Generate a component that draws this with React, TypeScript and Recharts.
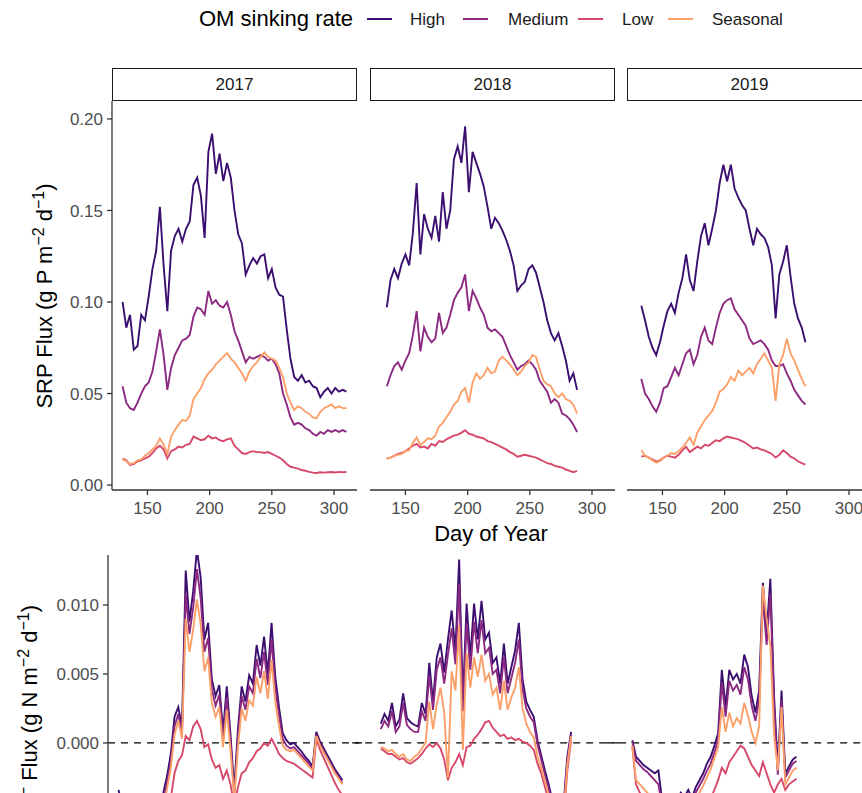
import React from 'react';
import { LineChart, Line, XAxis, YAxis, ReferenceLine } from 'recharts';

const FONT = '"Liberation Sans", Arial, Helvetica, sans-serif';

const seriesNames = ['High', 'Medium', 'Low', 'Seasonal'];
const seriesKeys = ['high', 'medium', 'low', 'seasonal'];
const seriesColors = ['#3B0F70', '#8C2981', '#D6496B', '#FCA06A'];
const years = ['2017', '2018', '2019'];
const dayTicks = [150, 200, 250, 300];
const srpTicks = [0, 0.05, 0.1, 0.15, 0.2];
const no3Ticks = [0, 0.005, 0.01];

const days2017 = [130,133,136,139,142,145,148,151,154,157,160,163,166,169,172,175,178,181,184,187,190,193,196,199,202,205,208,211,214,217,220,223,226,229,232,235,238,241,244,247,250,253,256,259,262,265,268,271,274,277,280,283,286,289,292,295,298,301,304,307,310];
const days2018 = [135,138,141,144,147,150,153,156,159,162,165,168,171,174,177,180,183,186,189,192,195,198,201,204,207,210,213,216,219,222,225,228,231,234,237,240,243,246,249,252,255,258,261,264,267,270,273,276,279,282,285,288];
const days2019 = [133,136,139,142,145,148,151,154,157,160,163,166,169,172,175,178,181,184,187,190,193,196,199,202,205,208,211,214,217,220,223,226,229,232,235,238,241,244,247,250,253,256,259,262,265];

// SRP flux (g P m-2 d-1)
const srpHigh2017 = [0.100,0.086,0.093,0.074,0.076,0.093,0.090,0.103,0.118,0.128,0.152,0.120,0.095,0.128,0.136,0.140,0.133,0.140,0.144,0.164,0.168,0.158,0.135,0.182,0.192,0.170,0.181,0.166,0.176,0.168,0.150,0.137,0.132,0.115,0.120,0.124,0.121,0.125,0.126,0.113,0.118,0.108,0.104,0.103,0.085,0.069,0.059,0.057,0.060,0.056,0.057,0.054,0.053,0.048,0.051,0.053,0.050,0.053,0.051,0.052,0.051];
const srpMedium2017 = [0.054,0.045,0.042,0.041,0.045,0.050,0.054,0.056,0.062,0.073,0.085,0.071,0.052,0.064,0.071,0.075,0.079,0.080,0.082,0.092,0.097,0.096,0.093,0.106,0.099,0.101,0.098,0.097,0.100,0.093,0.084,0.079,0.073,0.067,0.070,0.069,0.070,0.071,0.070,0.068,0.069,0.066,0.061,0.050,0.044,0.037,0.033,0.034,0.033,0.031,0.030,0.028,0.027,0.029,0.028,0.030,0.029,0.030,0.029,0.030,0.029];
const srpLow2017 = [0.0145,0.0135,0.0110,0.0115,0.0130,0.0135,0.0145,0.0155,0.0175,0.0200,0.0215,0.0195,0.0145,0.0185,0.0195,0.0210,0.0205,0.0220,0.0225,0.0265,0.0255,0.0245,0.0250,0.0270,0.0255,0.0260,0.0245,0.0240,0.0250,0.0255,0.0215,0.0195,0.0175,0.0170,0.0180,0.0185,0.0180,0.0180,0.0175,0.0180,0.0170,0.0160,0.0150,0.0135,0.0115,0.0100,0.0095,0.0090,0.0082,0.0078,0.0072,0.0068,0.0066,0.0070,0.0068,0.0070,0.0071,0.0069,0.0072,0.0070,0.0071];
const srpSeasonal2017 = [0.0140,0.0130,0.0115,0.0120,0.0135,0.0140,0.0160,0.0175,0.0195,0.0215,0.0255,0.0220,0.0170,0.0265,0.0300,0.0330,0.0355,0.0350,0.0380,0.0470,0.0500,0.0530,0.0580,0.0610,0.0630,0.0660,0.0680,0.0700,0.0720,0.0690,0.0670,0.0640,0.0610,0.0570,0.0620,0.0650,0.0670,0.0700,0.0725,0.0700,0.0690,0.0680,0.0640,0.0590,0.0500,0.0450,0.0410,0.0430,0.0420,0.0400,0.0390,0.0370,0.0365,0.0400,0.0420,0.0430,0.0440,0.0420,0.0430,0.0420,0.0420];

const srpHigh2018 = [0.097,0.112,0.118,0.113,0.121,0.126,0.120,0.138,0.165,0.126,0.148,0.140,0.135,0.147,0.133,0.160,0.140,0.150,0.178,0.185,0.176,0.196,0.160,0.182,0.176,0.170,0.163,0.152,0.140,0.146,0.143,0.139,0.134,0.128,0.120,0.106,0.109,0.111,0.118,0.120,0.116,0.108,0.100,0.090,0.083,0.079,0.083,0.076,0.068,0.057,0.061,0.052];
const srpMedium2018 = [0.054,0.060,0.065,0.067,0.063,0.068,0.072,0.082,0.095,0.073,0.086,0.081,0.078,0.080,0.094,0.083,0.086,0.093,0.101,0.105,0.108,0.115,0.095,0.106,0.102,0.097,0.093,0.086,0.084,0.085,0.083,0.081,0.076,0.071,0.067,0.063,0.065,0.066,0.068,0.066,0.063,0.057,0.054,0.051,0.045,0.047,0.045,0.039,0.038,0.036,0.033,0.029];
const srpLow2018 = [0.0145,0.0150,0.0160,0.0170,0.0175,0.0185,0.0200,0.0215,0.0225,0.0205,0.0210,0.0200,0.0225,0.0215,0.0240,0.0235,0.0250,0.0260,0.0270,0.0275,0.0285,0.0300,0.0280,0.0275,0.0265,0.0260,0.0255,0.0240,0.0235,0.0225,0.0215,0.0205,0.0195,0.0180,0.0170,0.0155,0.0160,0.0165,0.0160,0.0155,0.0150,0.0140,0.0130,0.0120,0.0115,0.0105,0.0100,0.0095,0.0085,0.0078,0.0070,0.0078];
const srpSeasonal2018 = [0.0145,0.0150,0.0160,0.0165,0.0170,0.0185,0.0190,0.0230,0.0260,0.0220,0.0235,0.0255,0.0250,0.0270,0.0320,0.0340,0.0370,0.0400,0.0440,0.0460,0.0510,0.0530,0.0450,0.0560,0.0610,0.0580,0.0600,0.0640,0.0610,0.0620,0.0680,0.0700,0.0680,0.0660,0.0630,0.0600,0.0620,0.0650,0.0670,0.0710,0.0700,0.0630,0.0570,0.0550,0.0540,0.0500,0.0480,0.0500,0.0470,0.0460,0.0440,0.0390];

const srpHigh2019 = [0.098,0.090,0.081,0.075,0.071,0.078,0.087,0.095,0.099,0.094,0.105,0.113,0.126,0.112,0.106,0.122,0.136,0.143,0.131,0.140,0.150,0.165,0.175,0.166,0.175,0.162,0.157,0.153,0.150,0.140,0.131,0.140,0.137,0.135,0.130,0.120,0.091,0.115,0.122,0.131,0.114,0.099,0.091,0.086,0.078];
const srpMedium2019 = [0.058,0.050,0.047,0.043,0.040,0.045,0.053,0.054,0.059,0.064,0.060,0.066,0.072,0.074,0.066,0.071,0.081,0.086,0.079,0.077,0.086,0.094,0.099,0.101,0.102,0.096,0.093,0.090,0.087,0.080,0.077,0.078,0.079,0.077,0.074,0.068,0.065,0.065,0.066,0.061,0.057,0.052,0.049,0.046,0.044];
const srpLow2019 = [0.0155,0.0160,0.0150,0.0140,0.0128,0.0135,0.0150,0.0160,0.0155,0.0150,0.0165,0.0190,0.0210,0.0180,0.0195,0.0210,0.0200,0.0220,0.0215,0.0230,0.0245,0.0240,0.0255,0.0265,0.0260,0.0255,0.0250,0.0240,0.0230,0.0215,0.0200,0.0205,0.0195,0.0190,0.0180,0.0170,0.0150,0.0165,0.0190,0.0175,0.0155,0.0145,0.0130,0.0120,0.0112];
const srpSeasonal2019 = [0.0190,0.0160,0.0150,0.0135,0.0122,0.0130,0.0148,0.0160,0.0175,0.0170,0.0185,0.0205,0.0230,0.0260,0.0220,0.0285,0.0320,0.0355,0.0380,0.0405,0.0450,0.0510,0.0525,0.0550,0.0590,0.0570,0.0625,0.0600,0.0620,0.0640,0.0610,0.0660,0.0690,0.0720,0.0680,0.0640,0.0460,0.0660,0.0710,0.0800,0.0720,0.0680,0.0630,0.0580,0.0540];

// NO3- flux (g N m-2 d-1)
const no3High2017 = [-0.0034,-0.0048,-0.0060,-0.0068,-0.0075,-0.0080,-0.0078,-0.0072,-0.0065,-0.0058,-0.0052,-0.0046,-0.0036,-0.0024,-0.0008,0.0019,0.0026,0.0012,0.0125,0.0088,0.0110,0.0140,0.0120,0.0075,0.0087,0.0046,0.0034,0.0042,0.0008,0.0041,0.0006,-0.0034,0.0010,0.0041,0.0030,0.0049,0.0043,0.0071,0.0056,0.0077,0.0050,0.0087,0.0048,0.0026,0.0007,0.0002,-0.0001,0.0000,-0.0003,-0.0006,-0.0010,-0.0013,-0.0017,0.0008,0.0001,-0.0004,-0.0009,-0.0014,-0.0019,-0.0023,-0.0027];
const no3Medium2017 = [-0.0040,-0.0055,-0.0066,-0.0074,-0.0080,-0.0085,-0.0083,-0.0077,-0.0070,-0.0063,-0.0057,-0.0050,-0.0041,-0.0029,-0.0013,0.0012,0.0021,0.0007,0.0108,0.0079,0.0098,0.0126,0.0105,0.0066,0.0076,0.0039,0.0027,0.0035,0.0003,0.0033,0.0001,-0.0038,0.0004,0.0034,0.0024,0.0041,0.0036,0.0061,0.0047,0.0066,0.0042,0.0075,0.0040,0.0020,0.0003,-0.0002,-0.0004,-0.0003,-0.0006,-0.0009,-0.0012,-0.0015,-0.0019,0.0006,-0.0001,-0.0006,-0.0011,-0.0016,-0.0021,-0.0025,-0.0029];
const no3Low2017 = [-0.0060,-0.0075,-0.0086,-0.0094,-0.0100,-0.0104,-0.0102,-0.0096,-0.0090,-0.0083,-0.0076,-0.0068,-0.0060,-0.0050,-0.0040,-0.0022,-0.0013,-0.0009,0.0005,0.0002,0.0012,0.0016,0.0010,-0.0003,-0.0001,-0.0012,-0.0018,-0.0016,-0.0026,-0.0020,-0.0030,-0.0045,-0.0032,-0.0022,-0.0020,-0.0014,-0.0011,-0.0006,-0.0004,0.0000,-0.0002,0.0003,-0.0002,-0.0008,-0.0011,-0.0013,-0.0014,-0.0015,-0.0017,-0.0019,-0.0021,-0.0023,-0.0025,0.0003,-0.0005,-0.0011,-0.0017,-0.0023,-0.0029,-0.0034,-0.0038];
const no3Seasonal2017 = [-0.0045,-0.0060,-0.0071,-0.0079,-0.0085,-0.0090,-0.0088,-0.0082,-0.0075,-0.0068,-0.0062,-0.0055,-0.0046,-0.0033,-0.0018,0.0006,0.0016,0.0003,0.0090,0.0066,0.0082,0.0104,0.0086,0.0052,0.0062,0.0029,0.0019,0.0026,-0.0003,0.0024,-0.0005,-0.0040,-0.0003,0.0025,0.0016,0.0031,0.0027,0.0048,0.0036,0.0052,0.0032,0.0060,0.0030,0.0012,-0.0002,-0.0005,-0.0006,-0.0005,-0.0008,-0.0011,-0.0014,-0.0017,-0.0020,0.0005,-0.0002,-0.0007,-0.0012,-0.0017,-0.0022,-0.0026,-0.0030];

const no3High2018 = [0.0014,0.0021,0.0016,0.0029,0.0012,0.0017,0.0036,0.0018,0.0015,0.0013,0.0012,0.0029,0.0021,0.0058,0.0030,0.0062,0.0072,0.0051,0.0075,0.0096,0.0067,0.0133,0.0030,0.0101,0.0062,0.0101,0.0075,0.0103,0.0075,0.0080,0.0058,0.0062,0.0043,0.0072,0.0043,0.0055,0.0067,0.0087,0.0046,0.0030,0.0024,0.0019,0.0002,-0.0009,-0.0020,-0.0030,-0.0042,-0.0052,-0.0058,-0.0045,-0.0010,0.0008];
const no3Medium2018 = [0.0010,0.0016,0.0012,0.0023,0.0008,0.0012,0.0029,0.0013,0.0010,0.0008,0.0008,0.0023,0.0016,0.0049,0.0024,0.0053,0.0062,0.0043,0.0064,0.0083,0.0057,0.0115,0.0023,0.0087,0.0053,0.0088,0.0065,0.0089,0.0065,0.0069,0.0050,0.0053,0.0036,0.0062,0.0036,0.0047,0.0058,0.0075,0.0039,0.0025,0.0019,0.0015,-0.0001,-0.0012,-0.0023,-0.0033,-0.0045,-0.0055,-0.0061,-0.0048,-0.0013,0.0006];
const no3Low2018 = [-0.0004,-0.0006,-0.0008,-0.0008,-0.0010,-0.0012,-0.0011,-0.0014,-0.0015,-0.0013,-0.0011,-0.0008,-0.0004,-0.0001,-0.0003,0.0000,-0.0004,-0.0012,-0.0027,-0.0018,-0.0014,-0.0008,-0.0016,-0.0003,-0.0002,0.0003,0.0006,0.0010,0.0015,0.0016,0.0011,0.0008,0.0005,0.0006,0.0003,0.0004,0.0002,0.0003,0.0001,0.0000,-0.0002,-0.0005,-0.0015,-0.0022,-0.0032,-0.0042,-0.0053,-0.0062,-0.0068,-0.0056,-0.0020,0.0002];
const no3Seasonal2018 = [-0.0003,-0.0004,-0.0006,-0.0005,-0.0008,-0.0010,-0.0008,-0.0012,-0.0013,-0.0010,-0.0008,-0.0004,0.0000,0.0030,0.0010,0.0028,0.0040,0.0022,-0.0025,0.0052,0.0038,0.0085,-0.0005,0.0065,0.0040,0.0062,0.0048,0.0064,0.0045,0.0050,0.0035,0.0040,0.0024,0.0045,0.0024,0.0033,0.0040,0.0055,0.0025,0.0014,0.0008,0.0004,-0.0010,-0.0018,-0.0028,-0.0038,-0.0049,-0.0058,-0.0064,-0.0052,-0.0016,0.0005];

const no3High2019 = [0.0002,-0.0010,-0.0013,-0.0016,-0.0018,-0.0020,-0.0022,-0.0020,-0.0042,-0.0040,-0.0044,-0.0038,-0.0041,-0.0036,-0.0039,-0.0034,-0.0040,-0.0032,-0.0027,-0.0022,-0.0015,-0.0010,-0.0002,0.0007,0.0053,0.0026,0.0053,0.0046,0.0050,0.0043,0.0064,0.0055,0.0034,0.0022,0.0038,0.0116,0.0080,0.0119,0.0034,-0.0019,0.0038,-0.0022,-0.0017,-0.0012,-0.0010];
const no3Medium2019 = [0.0001,-0.0013,-0.0016,-0.0019,-0.0021,-0.0024,-0.0027,-0.0030,-0.0046,-0.0044,-0.0048,-0.0042,-0.0045,-0.0040,-0.0043,-0.0038,-0.0043,-0.0036,-0.0031,-0.0026,-0.0020,-0.0015,-0.0007,0.0002,0.0044,0.0019,0.0045,0.0038,0.0042,0.0035,0.0055,0.0046,0.0027,0.0016,0.0031,0.0105,0.0071,0.0108,0.0027,-0.0023,0.0031,-0.0025,-0.0020,-0.0015,-0.0013];
const no3Low2019 = [-0.0002,-0.0030,-0.0036,-0.0040,-0.0044,-0.0048,-0.0052,-0.0056,-0.0062,-0.0064,-0.0066,-0.0063,-0.0066,-0.0062,-0.0064,-0.0060,-0.0062,-0.0058,-0.0054,-0.0050,-0.0045,-0.0040,-0.0034,-0.0027,-0.0018,-0.0022,-0.0014,-0.0010,-0.0006,-0.0002,-0.0004,-0.0010,-0.0016,-0.0020,-0.0024,-0.0014,-0.0022,-0.0030,-0.0036,-0.0030,-0.0026,-0.0034,-0.0030,-0.0028,-0.0026];
const no3Seasonal2019 = [-0.0002,-0.0027,-0.0030,-0.0033,-0.0036,-0.0039,-0.0042,-0.0045,-0.0052,-0.0050,-0.0054,-0.0048,-0.0051,-0.0046,-0.0049,-0.0044,-0.0048,-0.0041,-0.0036,-0.0031,-0.0025,-0.0019,-0.0011,-0.0003,0.0026,0.0008,0.0022,0.0012,0.0018,0.0014,0.0029,0.0020,0.0008,0.0000,0.0012,0.0114,0.0090,0.0070,0.0006,-0.0020,0.0026,-0.0030,-0.0025,-0.0020,-0.0018];

const buildRows = (days: number[], h: number[], m: number[], l: number[], s: number[]) =>
  days.map((day, i) => ({ day, high: h[i], medium: m[i], low: l[i], seasonal: s[i] }));

const srpData = [
  buildRows(days2017, srpHigh2017, srpMedium2017, srpLow2017, srpSeasonal2017),
  buildRows(days2018, srpHigh2018, srpMedium2018, srpLow2018, srpSeasonal2018),
  buildRows(days2019, srpHigh2019, srpMedium2019, srpLow2019, srpSeasonal2019),
];
const no3Data = [
  buildRows(days2017, no3High2017, no3Medium2017, no3Low2017, no3Seasonal2017),
  buildRows(days2018, no3High2018, no3Medium2018, no3Low2018, no3Seasonal2018),
  buildRows(days2019, no3High2019, no3Medium2019, no3Low2019, no3Seasonal2019),
];

const DAY_DOMAIN: [number, number] = [121.5, 318.5];
const tickStyle = { fontSize: 17, fill: '#4d4d4d', fontFamily: FONT };
const axisStyle = { stroke: '#333', strokeWidth: 1.3 };

interface FacetProps {
  data: any[];
  left: number;
  top: number;
  plotW: number;
  plotH: number;
  yDomain: [number, number];
  yTicks: number[];
  digits: number;
  showY: boolean;
  showX: boolean;
  zero?: [number, number];
}

const Facet: React.FC<FacetProps> = ({ data, left, top, plotW, plotH, yDomain, yTicks, digits, showY, showX, zero }) => {
  const yW = 80;
  const rightPad = 14;
  const xH = showX ? 40 : 0;
  const w = yW + plotW + rightPad;
  const h = plotH + xH;
  return (
    <div style={{ position: 'absolute', left: left - yW, top, width: w, height: h }}>
      <LineChart width={w} height={h} data={data} margin={{ top: 0, right: rightPad, bottom: 0, left: 0 }}>
        <XAxis
          dataKey="day"
          type="number"
          domain={DAY_DOMAIN}
          ticks={dayTicks}
          allowDataOverflow
          hide={!showX}
          height={xH}
          tickSize={5}
          tickMargin={7}
          tick={tickStyle}
          axisLine={axisStyle}
          tickLine={axisStyle}
        />
        <YAxis
          type="number"
          domain={yDomain}
          ticks={yTicks}
          allowDataOverflow
          width={yW}
          tickFormatter={(v: number) => v.toFixed(digits)}
          tickSize={5}
          tickMargin={4}
          tick={showY ? tickStyle : false}
          tickLine={showY ? axisStyle : false}
          axisLine={showY ? axisStyle : false}
        />
        {zero && (
          <ReferenceLine
            segment={[{ x: zero[0], y: 0 }, { x: zero[1], y: 0 }]}
            ifOverflow="visible"
            stroke="#000"
            strokeWidth={1.3}
            strokeDasharray="7 6"
          />
        )}
        {seriesKeys.map((k, i) => (
          <Line
            key={k}
            type="linear"
            dataKey={k}
            stroke={seriesColors[i]}
            strokeWidth={1.9}
            dot={false}
            activeDot={false}
            isAnimationActive={false}
          />
        ))}
      </LineChart>
    </div>
  );
};

const topLefts = [112, 370, 627];
const bottomLefts = [108, 364, 618];
const legendSegs = [367, 463, 578, 668];
const legendText = [410, 508, 622, 712];

export default function App() {
  return (
    <div style={{ position: 'fixed', left: 0, top: 0, width: 862, height: 793, overflow: 'hidden', background: '#fff', fontFamily: FONT }}>
      {/* legend */}
      <svg style={{ position: 'absolute', left: 0, top: 0 }} width={862} height={40}>
        <text x={199} y={26} fontSize={22} fill="#000" fontFamily={FONT}>OM sinking rate</text>
        {seriesNames.map((n, i) => (
          <g key={n}>
            <line x1={legendSegs[i]} x2={legendSegs[i] + 25} y1={19} y2={19} stroke={seriesColors[i]} strokeWidth={2} />
            <text x={legendText[i]} y={25} fontSize={17} fill="#1a1a1a" fontFamily={FONT}>{n}</text>
          </g>
        ))}
      </svg>

      {/* strips */}
      {years.map((y, i) => (
        <div
          key={y}
          style={{
            position: 'absolute', left: topLefts[i], top: 68, width: 245, height: 33, boxSizing: 'border-box',
            border: '1.6px solid #1a1a1a', display: 'flex', alignItems: 'center', justifyContent: 'center',
            fontSize: 17, color: '#1a1a1a', background: '#fff',
          }}
        >
          {y}
        </div>
      ))}

      {/* SRP row */}
      {srpData.map((d, i) => (
        <Facet
          key={'srp' + i}
          data={d}
          left={topLefts[i]}
          top={101}
          plotW={245}
          plotH={389}
          yDomain={[-0.0027, 0.2098]}
          yTicks={srpTicks}
          digits={2}
          showY={i === 0}
          showX
        />
      ))}

      {/* NO3 row */}
      {no3Data.map((d, i) => (
        <Facet
          key={'no3' + i}
          data={d}
          left={bottomLefts[i]}
          top={555}
          plotW={245}
          plotH={345}
          yDomain={[-0.01138, 0.01362]}
          yTicks={no3Ticks}
          digits={3}
          showY={i === 0}
          showX={false}
          zero={[i === 0 ? 121.5 : 112, 329]}
        />
      ))}

      {/* axis titles */}
      <svg style={{ position: 'absolute', left: 0, top: 0, pointerEvents: 'none' }} width={862} height={793}>
        <text x={491} y={541} fontSize={22} textAnchor="middle" fill="#000" fontFamily={FONT}>Day of Year</text>
        <text x={52} y={296} transform="rotate(-90 52 296)" fontSize={22} textAnchor="middle" fill="#000" fontFamily={FONT}>
          <tspan>SRP Flux (g P m</tspan>
          <tspan dy={-8} fontSize={16}>−2</tspan>
          <tspan dy={8}> d</tspan>
          <tspan dy={-8} fontSize={16}>−1</tspan>
          <tspan dy={8}>)</tspan>
        </text>
        <text x={37} y={605} transform="rotate(-90 37 605)" fontSize={22} textAnchor="end" fill="#000" fontFamily={FONT}>
          <tspan>NO</tspan>
          <tspan dy={5} fontSize={16}>3</tspan>
          <tspan dy={-13} fontSize={16}>−</tspan>
          <tspan dy={8}> Flux (g N m</tspan>
          <tspan dy={-8} fontSize={16}>−2</tspan>
          <tspan dy={8}> d</tspan>
          <tspan dy={-8} fontSize={16}>−1</tspan>
          <tspan dy={8}>)</tspan>
        </text>
      </svg>
    </div>
  );
}
